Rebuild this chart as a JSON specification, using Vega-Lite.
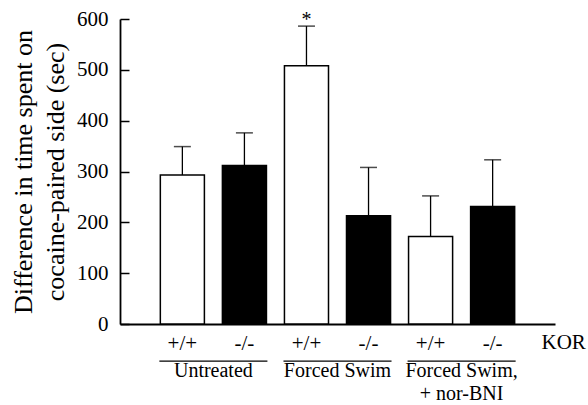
{
  "$schema": "https://vega.github.io/schema/vega-lite/v6.json",
  "width": 435,
  "height": 305,
  "autosize": {"type": "none"},
  "padding": {"left": 120, "top": 19, "right": 33, "bottom": 81},
  "background": "white",
  "config": {
    "view": {"stroke": null},
    "font": "Liberation Serif",
    "axis": {"domainColor": "black", "tickColor": "black", "labelColor": "black", "titleColor": "black", "grid": false, "labelFont": "Liberation Serif", "titleFont": "Liberation Serif", "titleFontWeight": "normal"}
  },
  "data": {
    "values": [
      {"bar": "U+", "genotype": "+/+", "value": 293, "upper": 349, "sig": ""},
      {"bar": "U-", "genotype": "-/-", "value": 312, "upper": 376, "sig": ""},
      {"bar": "F+", "genotype": "+/+", "value": 508, "upper": 586, "sig": "*"},
      {"bar": "F-", "genotype": "-/-", "value": 213, "upper": 308, "sig": ""},
      {"bar": "N+", "genotype": "+/+", "value": 172, "upper": 252, "sig": ""},
      {"bar": "N-", "genotype": "-/-", "value": 231, "upper": 323, "sig": ""}
    ]
  },
  "encoding": {
    "x": {
      "field": "bar",
      "type": "nominal",
      "scale": {"domain": ["U+", "U-", "F+", "F-", "N+", "N-"], "paddingInner": 0.29, "paddingOuter": 0.65},
      "axis": {
        "title": null,
        "ticks": false,
        "domainWidth": 1.8,
        "labelAngle": 0,
        "labelFontSize": 21,
        "labelPadding": 8,
        "labelExpr": "indexof(datum.label, '+') >= 0 ? '+/+' : '-/-'"
      }
    }
  },
  "layer": [
    {
      "mark": {"type": "rule", "color": "black", "strokeWidth": 1.3},
      "encoding": {
        "y": {"field": "value", "type": "quantitative"},
        "y2": {"field": "upper"}
      }
    },
    {
      "mark": {"type": "tick", "color": "black", "size": 17, "thickness": 1.5},
      "encoding": {
        "y": {"field": "upper", "type": "quantitative"}
      }
    },
    {
      "mark": {"type": "bar", "stroke": "black", "strokeWidth": 1.5},
      "encoding": {
        "y": {
          "field": "value",
          "type": "quantitative",
          "scale": {"domain": [0, 600], "nice": false},
          "axis": {
            "values": [0, 50, 100, 150, 200, 250, 300, 350, 400, 450, 500, 550, 600],
            "labelExpr": "datum.value % 100 === 0 ? datum.label : ''",
            "labelFontSize": 21,
            "labelPadding": 21,
            "tickSize": -9,
            "tickWidth": 1.5,
            "domainWidth": 1.8,
            "title": ["Difference in time spent on", "cocaine-paired side (sec)"],
            "titleFontSize": 26,
            "titleLineHeight": 32,
            "titlePadding": 8
          }
        },
        "fill": {
          "field": "genotype",
          "type": "nominal",
          "scale": {"domain": ["+/+", "-/-"], "range": ["#ffffff", "#000000"]},
          "legend": null
        }
      }
    },
    {
      "mark": {"type": "text", "fontSize": 20, "baseline": "bottom", "dy": 4, "color": "black"},
      "encoding": {
        "y": {"field": "upper", "type": "quantitative"},
        "text": {"field": "sig"}
      }
    },
    {
      "data": {
        "values": [
          {"bar": "U+", "bar2": "U-", "label": "Untreated"},
          {"bar": "F+", "bar2": "F-", "label": "Forced Swim"},
          {"bar": "N+", "bar2": "N-", "label": "Forced Swim,\n+ nor-BNI"}
        ]
      },
      "layer": [
        {
          "mark": {"type": "rule", "color": "black", "strokeWidth": 1.3, "xOffset": -23, "x2Offset": 23},
          "encoding": {
            "x2": {"field": "bar2"},
            "y": {"datum": -73}
          }
        },
        {
          "mark": {"type": "text", "fontSize": 20, "baseline": "alphabetic", "align": "center", "dx": 31, "lineBreak": "\n", "lineHeight": 23, "color": "black"},
          "encoding": {
            "y": {"datum": -104},
            "text": {"field": "label"}
          }
        }
      ]
    },
    {
      "data": {"values": [{"bar": "N-", "label": "KOR"}]},
      "mark": {"type": "text", "fontSize": 21, "baseline": "middle", "align": "center", "dx": 71, "color": "black"},
      "encoding": {
        "y": {"datum": -38},
        "text": {"field": "label"}
      }
    }
  ]
}
